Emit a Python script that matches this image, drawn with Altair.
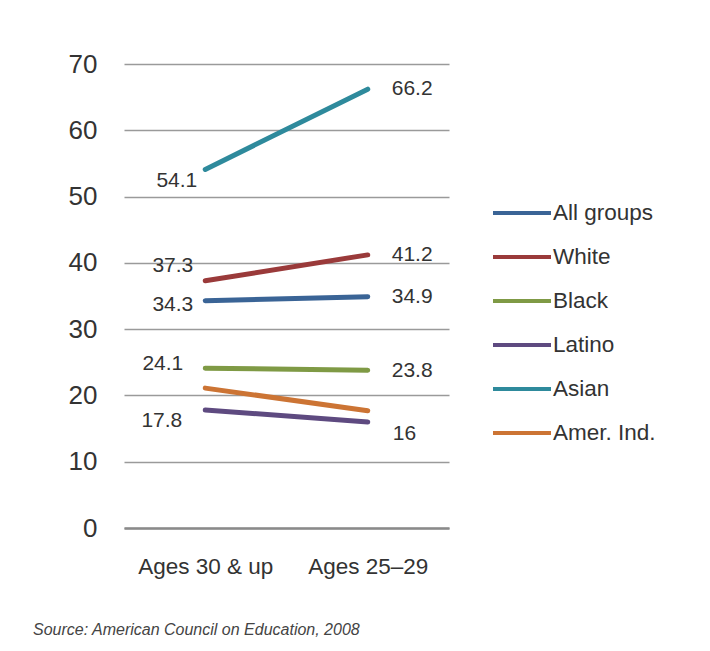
import altair as alt
import pandas as pd

periods = ["Ages 30 & up", "Ages 25–29"]
groups = ["All groups", "White", "Black", "Latino", "Asian", "Amer. Ind."]
values_30_up = [34.3, 37.3, 24.1, 17.8, 54.1, 21.1]
values_25_29 = [34.9, 41.2, 23.8, 16.0, 66.2, 17.7]
left_labels = ["34.3", "37.3", "24.1", "17.8", "54.1", ""]
right_labels = ["34.9", "41.2", "23.8", "16", "66.2", ""]
colors = ["#3A6496", "#9A3A3A", "#7F9A45", "#5E4A80", "#2E8A9C", "#CC7434"]

rows = []
for g, a, b, la, lb in zip(groups, values_30_up, values_25_29, left_labels, right_labels):
    rows.append({"group": g, "period": periods[0], "value": a, "label": la})
    rows.append({"group": g, "period": periods[1], "value": b, "label": lb})
df = pd.DataFrame(rows)

FONT = "Liberation Sans"
TXT = "#333333"

x_enc = alt.X("period:N", sort=periods, scale=alt.Scale(type="point", padding=0.5),
              axis=alt.Axis(title=None, labelFontSize=22.5, labelColor=TXT, labelFont=FONT,
                            labelAngle=0, ticks=False, labelPadding=27, domain=True,
                            domainColor="#8a8a8a", domainWidth=2.5, grid=False))
y_enc = alt.Y("value:Q", scale=alt.Scale(domain=[0, 70], nice=False),
              axis=alt.Axis(title=None, values=[0, 10, 20, 30, 40, 50, 60, 70],
                            labelFontSize=26, labelColor=TXT, labelFont=FONT,
                            ticks=False, domain=False, labelPadding=27,
                            gridColor="#9a9a9a", gridWidth=1.5))
color_enc = alt.Color("group:N", sort=groups,
                      scale=alt.Scale(domain=groups, range=colors),
                      legend=alt.Legend(title=None, orient="none", legendX=367, legendY=118,
                                        symbolType="stroke", symbolSize=3364,
                                        symbolStrokeWidth=4, labelFontSize=22.5,
                                        labelFont=FONT, labelColor=TXT, rowPadding=1,
                                        labelOffset=0))

lines = alt.Chart(df).mark_line(strokeWidth=5, strokeCap="round").encode(
    x=x_enc, y=y_enc, color=color_enc, detail="group:N")

# per-label nudges (style only)
left_off = {"All groups": (-12, 4), "White": (-12, -15), "Black": (-22, -4),
            "Latino": (-23, 11), "Asian": (-8, 12)}
right_off = {"All groups": (24, 0), "White": (24, 0), "Black": (24, 1),
             "Latino": (25, 12), "Asian": (24, 0)}

layers = [lines]
for g, (dx, dy) in left_off.items():
    layers.append(alt.Chart(df).transform_filter(
        (alt.datum.group == g) & (alt.datum.period == periods[0])
    ).mark_text(align="right", baseline="middle", dx=dx, dy=dy, fontSize=21,
                font=FONT, color=TXT).encode(x=x_enc, y=y_enc, text="label:N"))
for g, (dx, dy) in right_off.items():
    layers.append(alt.Chart(df).transform_filter(
        (alt.datum.group == g) & (alt.datum.period == periods[1])
    ).mark_text(align="left", baseline="middle", dx=dx, dy=dy, fontSize=21,
                font=FONT, color=TXT).encode(x=x_enc, y=y_enc, text="label:N"))

chart = alt.layer(*layers).properties(
    width=325, height=464,
    background="white",
    autosize=alt.AutoSizeParams(type="none"),
    padding={"left": 116, "top": 56, "right": 253, "bottom": 115},
    title=alt.TitleParams("Source: American Council on Education, 2008", orient="bottom",
                          anchor="start", frame="group", dx=-91, offset=44,
                          fontSize=16, fontStyle="italic", fontWeight="normal",
                          font=FONT, color="#444444"),
).configure_view(stroke="transparent", strokeWidth=0)

chart.save("out.html", embed_options={"renderer": "svg", "actions": False})
